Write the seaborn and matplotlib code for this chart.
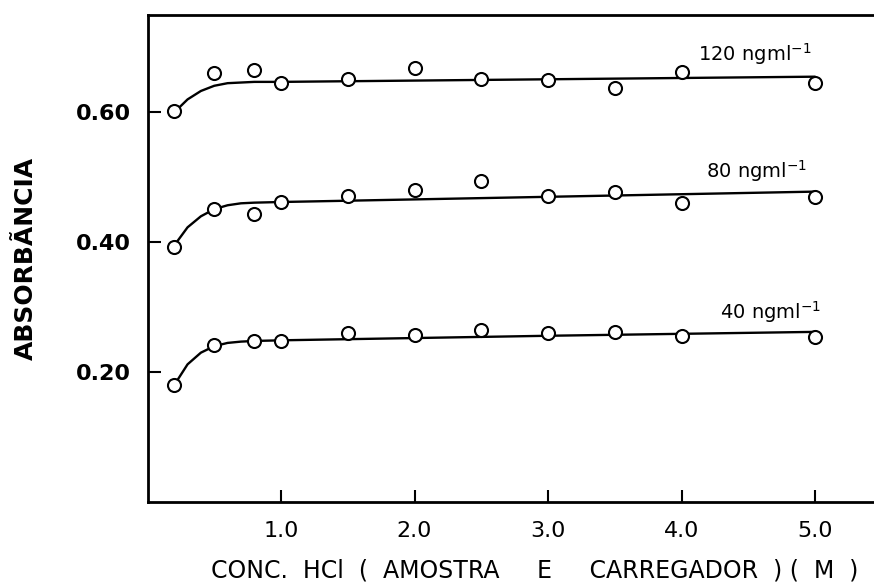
import matplotlib
matplotlib.use("Agg")
import matplotlib.pyplot as plt
import seaborn as sns
import pandas as pd
import numpy as np

# ---- data ----
conc = [0.2, 0.5, 0.8, 1.0, 1.5, 2.0, 2.5, 3.0, 3.5, 4.0, 5.0]
abs_120 = [0.602, 0.661, 0.666, 0.646, 0.652, 0.668, 0.651, 0.650, 0.638, 0.662, 0.645]
abs_80 = [0.392, 0.451, 0.443, 0.462, 0.471, 0.480, 0.494, 0.471, 0.477, 0.460, 0.469]
abs_40 = [0.180, 0.242, 0.248, 0.248, 0.260, 0.257, 0.265, 0.260, 0.262, 0.256, 0.254]

# hand-drawn trend curves (knots)
curve_x = [0.2, 0.3, 0.4, 0.5, 0.6, 0.7, 0.8, 1.0, 3.0, 5.0]
curve_120 = [0.600, 0.620, 0.633, 0.641, 0.645, 0.646, 0.647, 0.647, 0.651, 0.655]
curve_80 = [0.395, 0.423, 0.440, 0.451, 0.457, 0.460, 0.461, 0.462, 0.470, 0.478]
curve_40 = [0.180, 0.212, 0.230, 0.240, 0.245, 0.247, 0.248, 0.249, 0.256, 0.262]

series_labels = ["120 ngml$^{-1}$", "80 ngml$^{-1}$", "40 ngml$^{-1}$"]
x_ticks = [1.0, 2.0, 3.0, 4.0, 5.0]
y_ticks = [0.20, 0.40, 0.60]

sns.set_theme(style="ticks")
plt.rcParams['font.family'] = ['DejaVu Sans']

fig = plt.figure(figsize=(8.74, 5.82), dpi=100)
ax = fig.add_axes([147.5 / 874, 80 / 582, (874 - 147.5) / 874, (502 - 15) / 582])

pts = pd.DataFrame({
    "conc": conc * 3,
    "abs": abs_120 + abs_80 + abs_40,
    "serie": [series_labels[0]] * len(conc) + [series_labels[1]] * len(conc) + [series_labels[2]] * len(conc),
})
curves = pd.DataFrame({
    "conc": curve_x * 3,
    "abs": curve_120 + curve_80 + curve_40,
    "serie": [series_labels[0]] * len(curve_x) + [series_labels[1]] * len(curve_x) + [series_labels[2]] * len(curve_x),
})

sns.lineplot(data=curves, x="conc", y="abs", units="serie", estimator=None,
             color="black", linewidth=1.7, ax=ax, legend=False, sort=False)
sns.scatterplot(data=pts, x="conc", y="abs", s=88, facecolor="white",
                edgecolor="black", linewidth=1.5, ax=ax, legend=False, zorder=3)

ax.set_xlim(0, (874 - 147.5) / 133.5)
ax.set_ylim(0, 0.75)
ax.set_xticks(x_ticks)
ax.set_xticklabels([f"{v:.1f}" for v in x_ticks])
ax.set_yticks(y_ticks)
ax.set_yticklabels([f"{v:.2f}" for v in y_ticks])

for side in ["left", "bottom", "top"]:
    ax.spines[side].set_linewidth(2.0)
    ax.spines[side].set_color("black")
ax.spines["right"].set_visible(False)

ax.tick_params(axis="both", direction="in", length=9, width=1.5, colors="black",
               labelsize=16)
ax.tick_params(axis="x", pad=14)
ax.tick_params(axis="y", pad=12)
for lab in ax.get_yticklabels():
    lab.set_fontweight("bold")

ax.set_xlabel("CONC.  HCl  (  AMOSTRA     E     CARREGADOR  ) (  M  )",
              fontsize=17, color="black")
ax.xaxis.set_label_coords(0.533, -0.116)
ax.set_ylabel("ABSORBÃNCIA", fontsize=18, fontweight="bold", color="black")
ax.yaxis.set_label_coords(-0.151, 0.50)

# series labels
label_pos = [(4.12, 0.69), (4.18, 0.51), (4.29, 0.292)]
for (lx, ly), txt in zip(label_pos, series_labels):
    ax.text(lx, ly, txt, fontsize=14, color="black", ha="left", va="center")

fig.savefig("out.png", dpi=100)
